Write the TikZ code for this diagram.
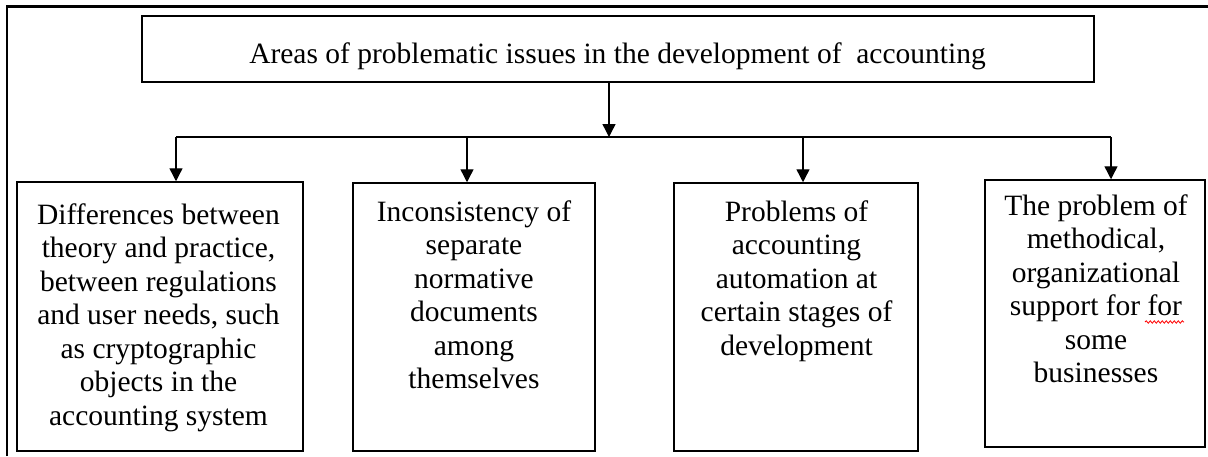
\documentclass[tikz,border=0pt]{standalone}
\usepackage{fontspec}
\setmainfont{Liberation Serif}
\usetikzlibrary{arrows.meta,decorations.pathmorphing}
\begin{document}
\begin{tikzpicture}[x=1pt,y=-1pt,
  boxstyle/.style={draw,line width=1.5pt,inner sep=0pt},
  txt/.style={anchor=base,inner sep=0pt,font=\fontsize{29.5}{33.5}\selectfont},
  arr/.style={line width=1.4pt,-{Triangle[width=13pt,length=13pt]}},
  conn/.style={line width=1.4pt}]
\useasboundingbox (0,0) rectangle (1208,456);
% outer frame (top and left)
\coordinate (fa) at (7,456);
\coordinate (fb) at (7,6.5);
\coordinate (fc) at (1208,6.5);
\draw[line width=2.4pt] (fa) -- (fb) -- (fc);
% top box
\node[boxstyle,minimum width=952pt,minimum height=66pt] (top) at (618,49) {};
\node[txt] (topt) at (617.5,63) {Areas of problematic issues in the development of\ \ accounting};
% boxes
\node[boxstyle,minimum width=286pt,minimum height=269pt] (b1) at (160,316.5) {};
\node[boxstyle,minimum width=242pt,minimum height=268pt] (b2) at (474,317) {};
\node[boxstyle,minimum width=244pt,minimum height=268pt] (b3) at (796,317) {};
\node[boxstyle,minimum width=220pt,minimum height=267pt] (b4) at (1095,313.5) {};
\node[txt] (b1t) at (158.5,224) {\begin{tabular}[t]{@{}c@{}}Differences between\\theory and practice,\\between regulations\\and user needs, such\\as cryptographic\\objects in the\\accounting system\end{tabular}};
\node[txt] (b2t) at (474,221) {\begin{tabular}[t]{@{}c@{}}Inconsistency of\\separate\\normative\\documents\\among\\themselves\end{tabular}};
\node[txt] (b3t) at (796.5,221) {\begin{tabular}[t]{@{}c@{}}Problems of\\accounting\\automation at\\certain stages of\\development\end{tabular}};
\node[txt] (b4t) at (1096,215) {\begin{tabular}[t]{@{}c@{}}The problem of\\methodical,\\organizational\\support for for\\some\\businesses\end{tabular}};
% spell-check squiggle
\coordinate (sq1) at (1145,322);
\coordinate (sq2) at (1184,322);
\draw[red,line width=0.8pt,decorate,decoration={snake,amplitude=1.2pt,segment length=4pt}] (sq1) -- (sq2);
% connectors
\coordinate (j) at (609,137);
\coordinate (c1) at (176,137);
\coordinate (c2) at (467,137);
\coordinate (c3) at (803,137);
\coordinate (c4) at (1111,137);
\draw[arr] (top.south -| j) -- (j);
\draw[conn] (c1) -- (c4);
\draw[arr] (c1) -- (b1.north -| c1);
\draw[arr] (c2) -- (b2.north -| c2);
\draw[arr] (c3) -- (b3.north -| c3);
\draw[arr] (c4) -- (b4.north -| c4);
\end{tikzpicture}
\end{document}
